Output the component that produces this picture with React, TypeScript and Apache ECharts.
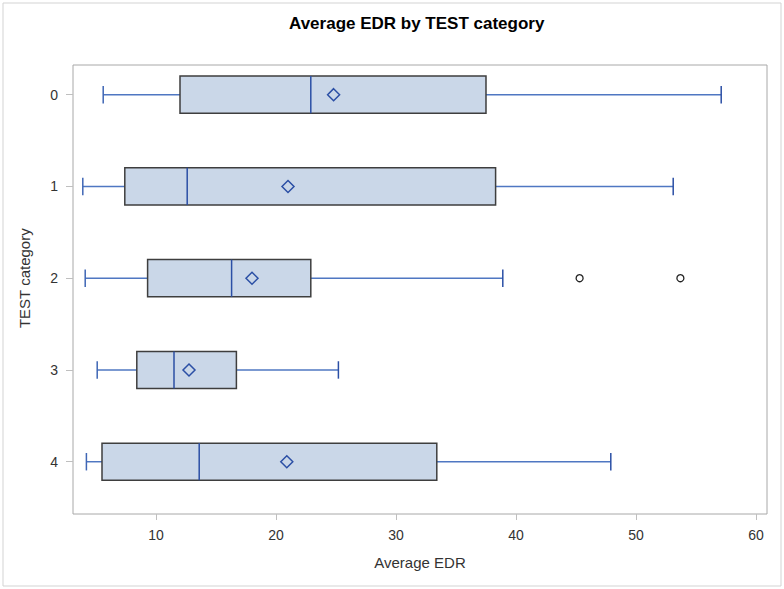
import React, { useEffect, useRef } from "react";
import * as echarts from "echarts";

const categories = ["0", "1", "2", "3", "4"];
const whiskerLow = [5.6, 3.9, 4.1, 5.1, 4.2];
const q1 = [12.0, 7.4, 9.3, 8.4, 5.5];
const median = [22.9, 12.6, 16.3, 11.5, 13.6];
const q3 = [37.5, 38.3, 22.9, 16.7, 33.4];
const whiskerHigh = [57.1, 53.1, 38.9, 25.2, 47.9];
const means = [24.8, 21.0, 18.0, 12.75, 20.9];
const outlierCats = [2, 2];
const outlierValues = [45.3, 53.7];
const xTicks = [10, 20, 30, 40, 50, 60];

const FONT = "'Liberation Sans', Arial, sans-serif";

export default function App() {
  const ref = useRef<HTMLDivElement>(null);
  useEffect(() => {
    if (!ref.current) return;
    const chart = echarts.init(ref.current, null, { renderer: "svg" });
    const boxData = categories.map((_, i) => [i, whiskerLow[i], q1[i], median[i], q3[i], whiskerHigh[i]]);
    const option: any = {
      animation: false,
      backgroundColor: "#fff",
      title: {
        text: "Average EDR by TEST category",
        left: 284,
        top: 10,
        textStyle: { fontFamily: FONT, fontSize: 17, fontWeight: "bold", color: "#000" },
      },
      graphic: [
        {
          type: "rect",
          shape: { x: 3, y: 3, width: 778, height: 583 },
          style: { fill: "none", stroke: "#D3D3D3", lineWidth: 1 },
          z: 0,
        },
        {
          type: "rect",
          shape: { x: 73, y: 65, width: 694, height: 449 },
          style: { fill: "none", stroke: "#A8A8A8", lineWidth: 1 },
          z: 0,
        },
      ],
      grid: { left: 73, right: 17, top: 48.8, bottom: 81.4 },
      xAxis: {
        type: "value",
        min: 3.0833,
        max: 60.9167,
        offset: 6.4,
        name: "Average EDR",
        nameLocation: "middle",
        nameGap: 41,
        nameTextStyle: { fontFamily: FONT, fontSize: 15, color: "#333" },
        axisLine: { show: false },
        axisTick: { show: true, customValues: xTicks, length: 6, lineStyle: { color: "#BFBFBF" } },
        axisLabel: { customValues: xTicks, margin: 14, fontFamily: FONT, fontSize: 14, color: "#333" },
        splitLine: { show: false },
      },
      yAxis: {
        type: "category",
        data: categories,
        inverse: true,
        name: "TEST category",
        nameLocation: "middle",
        nameGap: 41,
        nameRotate: 90,
        nameTextStyle: { fontFamily: FONT, fontSize: 15, color: "#333" },
        axisLine: { show: false },
        axisTick: { show: true, alignWithLabel: true, length: 7, lineStyle: { color: "#BFBFBF" } },
        axisLabel: { margin: 15, fontFamily: FONT, fontSize: 14, color: "#333" },
        splitLine: { show: false },
      },
      series: [
        {
          type: "custom",
          encode: { x: [1, 2, 3, 4, 5], y: 0 },
          data: boxData,
          z: 2,
          renderItem: (params: any, api: any) => {
            const cat = api.value(0);
            const pLo = api.coord([api.value(1), cat]);
            const pQ1 = api.coord([api.value(2), cat]);
            const pMed = api.coord([api.value(3), cat]);
            const pQ3 = api.coord([api.value(4), cat]);
            const pHi = api.coord([api.value(5), cat]);
            const band = api.size([0, 1])[1];
            const h = band * 0.405;
            const cap = band * 0.19;
            const y = pMed[1];
            const whisk = { stroke: "#4F77C2", lineWidth: 1.5 };
            const dark = { stroke: "#2B4FA5", lineWidth: 1.5 };
            return {
              type: "group",
              children: [
                { type: "line", shape: { x1: pLo[0], y1: y, x2: pQ1[0], y2: y }, style: whisk },
                { type: "line", shape: { x1: pQ3[0], y1: y, x2: pHi[0], y2: y }, style: whisk },
                { type: "line", shape: { x1: pLo[0], y1: y - cap / 2, x2: pLo[0], y2: y + cap / 2 }, style: { stroke: "#3F66B5", lineWidth: 1.5 } },
                { type: "line", shape: { x1: pHi[0], y1: y - cap / 2, x2: pHi[0], y2: y + cap / 2 }, style: { stroke: "#2B4FA5", lineWidth: 1.5 } },
                {
                  type: "rect",
                  shape: { x: pQ1[0], y: y - h / 2, width: pQ3[0] - pQ1[0], height: h },
                  style: { fill: "#CAD7E8", stroke: "#3E3E3E", lineWidth: 1.5 },
                },
                { type: "line", shape: { x1: pMed[0], y1: y - h / 2, x2: pMed[0], y2: y + h / 2 }, style: dark },
              ],
            };
          },
        },
        {
          type: "scatter",
          data: means.map((m, i) => [m, i]),
          symbol: "diamond",
          symbolSize: [12, 12],
          z: 3,
          itemStyle: { color: "#CAD7E8", borderColor: "#2B4FA5", borderWidth: 1.5, opacity: 1 },
        },
        {
          type: "scatter",
          data: outlierValues.map((v, i) => [v, outlierCats[i]]),
          symbol: "circle",
          symbolSize: 7,
          z: 3,
          itemStyle: { color: "#fff", borderColor: "#222", borderWidth: 1.3, opacity: 1 },
        },
      ],
    };
    chart.setOption(option);
    return () => chart.dispose();
  }, []);
  return (
    <div
      ref={ref}
      style={{ position: "absolute", left: 0, top: 0, width: 784, height: 589 }}
    />
  );
}
